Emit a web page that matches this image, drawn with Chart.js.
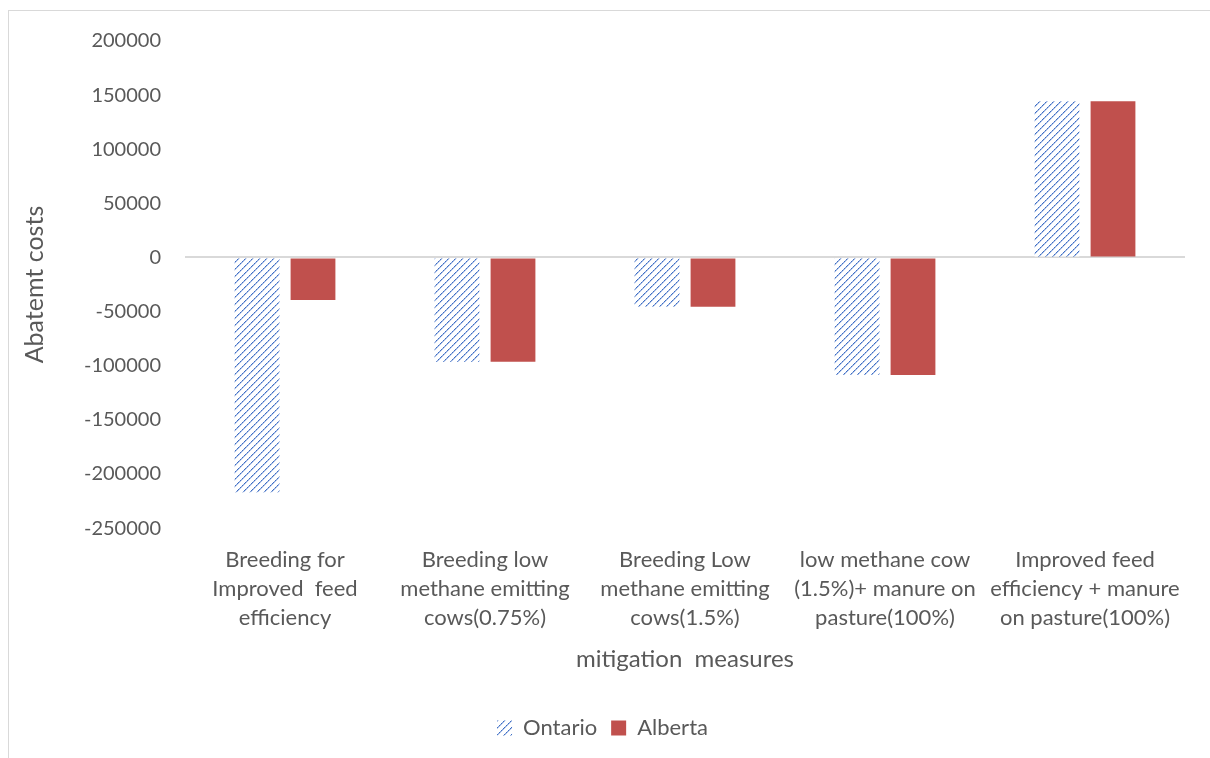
<!DOCTYPE html>
<html>
<head>
<meta charset="utf-8">
<script src="https://cdn.jsdelivr.net/npm/chart.js@4/dist/chart.umd.min.js"></script>
<style>
  html, body { margin: 0; padding: 0; background: #fff; overflow: hidden; }
  #wrap { position: relative; width: 1210px; height: 758px; }
  #frame { position: absolute; left: 8px; top: 10px; width: 1300px; height: 900px; border: 1px solid #d9d9d9; box-sizing: border-box; }
  canvas { position: absolute; left: 0; top: 0; }
</style>
</head>
<body>
<div id="wrap">
  <div id="frame"></div>
  <canvas id="chart-bar" width="1210" height="758"></canvas>
</div>
<script>
'use strict';

// [ data ]
var categories = [
    ["Breeding for", "Improved  feed", "efficiency"],
    ["Breeding low", "methane emitting", "cows(0.75%)"],
    ["Breeding Low", "methane emitting", "cows(1.5%)"],
    ["low methane cow", "(1.5%)+ manure on", "pasture(100%)"],
    ["Improved feed", "efficiency + manure", "on pasture(100%)"]
];
var ontario = [-217000, -96300, -45600, -108600, 144400];
var alberta = [-39200, -96300, -45600, -108600, 144400];
var yTicks = [200000, 150000, 100000, 50000, 0, -50000, -100000, -150000, -200000, -250000];

// hatched fill for Ontario (dotted upward diagonal)
function makeHatch() {
    var c = document.createElement('canvas');
    c.width = 7; c.height = 7;
    var g = c.getContext('2d');
    g.fillStyle = '#ffffff';
    g.fillRect(0, 0, 7, 7);
    for (var i = 0; i < 7; i++) {
        g.fillStyle = (i % 2 === 0) ? '#3f6fc4' : '#7d9cd8';
        g.fillRect(i, 6 - i, 1, 1);
        g.fillStyle = '#b3c6ea';
        g.fillRect((i + 1) % 7, 6 - i, 1, 1);
    }
    return g.createPattern(c, 'repeat');
}

var ctx = document.getElementById("chart-bar").getContext('2d');
var hatch = makeHatch();

var myChart = new Chart(ctx, {
    type: 'bar',
    data: {
        labels: categories,
        datasets: [{
            label: 'Ontario',
            data: ontario,
            backgroundColor: hatch,
            borderWidth: 0,
            categoryPercentage: 0.56,
            barPercentage: 0.8
        }, {
            label: 'Alberta',
            data: alberta,
            backgroundColor: '#c0504d',
            borderWidth: 0,
            categoryPercentage: 0.56,
            barPercentage: 0.8
        }]
    },
    options: {
        responsive: false,
        animation: false,
        maintainAspectRatio: false,
        layout: { padding: { left: 20, right: 25, top: 41, bottom: 9 } },
        plugins: {
            legend: {
                position: 'bottom',
                labels: {
                    font: { family: 'Lato', size: 22 },
                    color: '#595959',
                    boxWidth: 15,
                    boxHeight: 15,
                    padding: 14
                }
            },
            tooltip: { enabled: false }
        },
        scales: {
            x: {
                grid: { display: false },
                border: { display: false },
                ticks: {
                    font: { family: 'Lato', size: 22, lineHeight: 1.32 },
                    color: '#595959',
                    maxRotation: 0,
                    autoSkip: false,
                    padding: 9
                },
                title: {
                    display: true,
                    text: 'mitigation  measures',
                    font: { family: 'Lato', size: 24 },
                    color: '#595959',
                    padding: { top: 4, bottom: 29 }
                }
            },
            y: {
                min: -250000,
                max: 200000,
                afterBuildTicks: function(scale) {
                    scale.ticks = yTicks.map(function(v) { return { value: v }; });
                },
                afterFit: function(scale) { scale.width = 165; },
                grid: {
                    drawTicks: false,
                    color: function(c) { return c.tick && c.tick.value === 0 ? '#d9d9d9' : 'rgba(0,0,0,0)'; },
                    lineWidth: 2
                },
                border: { display: false },
                ticks: {
                    font: { family: 'Lato', size: 20 },
                    color: '#595959',
                    padding: 24,
                    callback: function(v) { return String(v); }
                },
                title: {
                    display: true,
                    text: 'Abatemt costs',
                    font: { family: 'Lato', size: 25 },
                    color: '#595959',
                    padding: 0
                }
            }
        }
    }
});
</script>
</body>
</html>
